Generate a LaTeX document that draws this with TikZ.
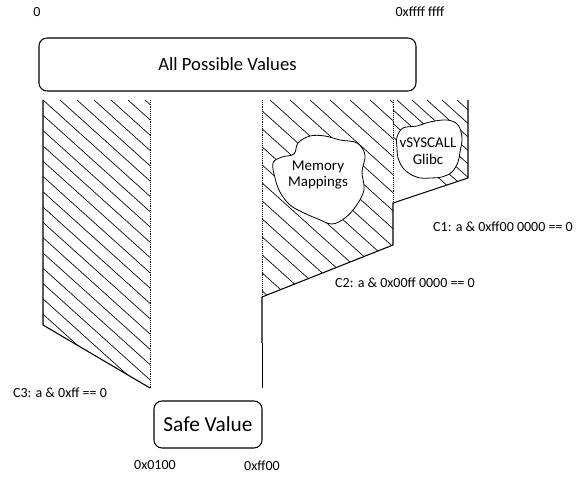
\documentclass[tikz,border=0pt]{standalone}
\usepackage{fontspec}
\setmainfont{Carlito}
\begin{document}
\begin{tikzpicture}[x=0.75pt,y=-0.75pt,
  box/.style={draw, rounded corners=6pt, line width=0.8pt, align=center, inner sep=0pt},
  lbl/.style={font=\fontsize{10.5}{12}\selectfont, inner sep=0pt},
  hatch/.style={line width=0.5pt},
  edge/.style={line width=0.8pt},
  sep/.style={densely dotted, line width=0.4pt},
  blob/.style={draw, fill=white, line width=0.6pt},
  blobtext/.style={font=\fontsize{11.2}{12.5}\selectfont, align=center, inner sep=0pt}]
\useasboundingbox (0,0) rectangle (587,477);

% address range labels
\node[lbl] (zero) at (37,12) {0};
\node[lbl] (top) at (420,12) {0xffff ffff};

% boxes
\node[box, font=\fontsize{14}{16}\selectfont, minimum width=282.75pt, minimum height=39.75pt] (all) at (227.5,64.5) {All Possible Values};
\node[box, font=\fontsize{16}{18}\selectfont, minimum width=81pt, minimum height=35.25pt] (safe) at (208,424.5) {Safe Value};

% region corners
\coordinate (L1) at (43,100);
\coordinate (L2) at (43,325);
\coordinate (L3) at (150,388);
\coordinate (L4) at (150,100);
\coordinate (M1) at (262,100);
\coordinate (M2) at (262,297);
\coordinate (M3) at (262,343);
\coordinate (M4) at (262,388);
\coordinate (R1) at (393,245);
\coordinate (R2) at (393,203);
\coordinate (R3) at (468,178);
\coordinate (R4) at (468,100);
\coordinate (V1) at (393,100);

% hatching of the excluded ranges
\begin{scope}
  \clip (L1) -- (L2) -- (L3) -- (L4) -- cycle;
  \foreach \c in {-399,-382,...,150} \draw[hatch] (\c,100) -- ++(400,360);
\end{scope}
\begin{scope}
  \clip (M1) -- (M2) -- (R1) -- (R2) -- (V1) -- cycle;
  \foreach \c in {-150,-130,...,400} \draw[hatch] (\c,100) -- ++(400,360);
\end{scope}
\begin{scope}
  \clip (V1) -- (R2) -- (R3) -- (R4) -- cycle;
  \foreach \c in {352,367,...,470} \draw[hatch] (\c,100) -- ++(400,360);
\end{scope}

% region borders
\draw[edge] (L1) -- (L2) -- (L3);
\draw[sep] (L4) -- (L3);
\draw[sep] (M1) -- (M2);
\draw[sep] (V1) -- (R2);
\draw[edge] (M3) -- (M2) -- (R1) -- (R2) -- (R3) -- (R4);
\draw[line width=0.5pt] (M3) -- (M4);

% mapped areas
\draw[blob] plot[smooth cycle, tension=0.6] coordinates {
  (273,163) (282,157) (294,154) (298,143) (310,136) (325,136) (340,140)
  (357,143) (365,155) (362,172) (364,190) (356,206) (345,218) (332,224)
  (318,219) (304,213) (290,205) (280,192) (275,178)};
\node[blobtext] (mm) at (318,175) {Memory\\Mappings};
\draw[blob] plot[smooth cycle, tension=0.6] coordinates {
  (397,137) (403,128) (417,126) (430,122) (447,120) (458,125) (462,138)
  (460,152) (458,162) (452,172) (442,177) (430,178) (420,178) (410,174)
  (403,168) (398,158) (397,148)};
\node[blobtext] (vs) at (428,151) {vSYSCALL\\Glibc};

% mask conditions
\node[lbl] (c1) at (503,227) {C1: a \& 0xff00 0000 == 0};
\node[lbl] (c2) at (405,283) {C2: a \& 0x00ff 0000 == 0};
\node[lbl] (c3) at (60,393) {C3: a \& 0xff == 0};
\node[lbl] (lo) at (155,465) {0x0100};
\node[lbl] (hi) at (262,466) {0xff00};
\end{tikzpicture}
\end{document}
